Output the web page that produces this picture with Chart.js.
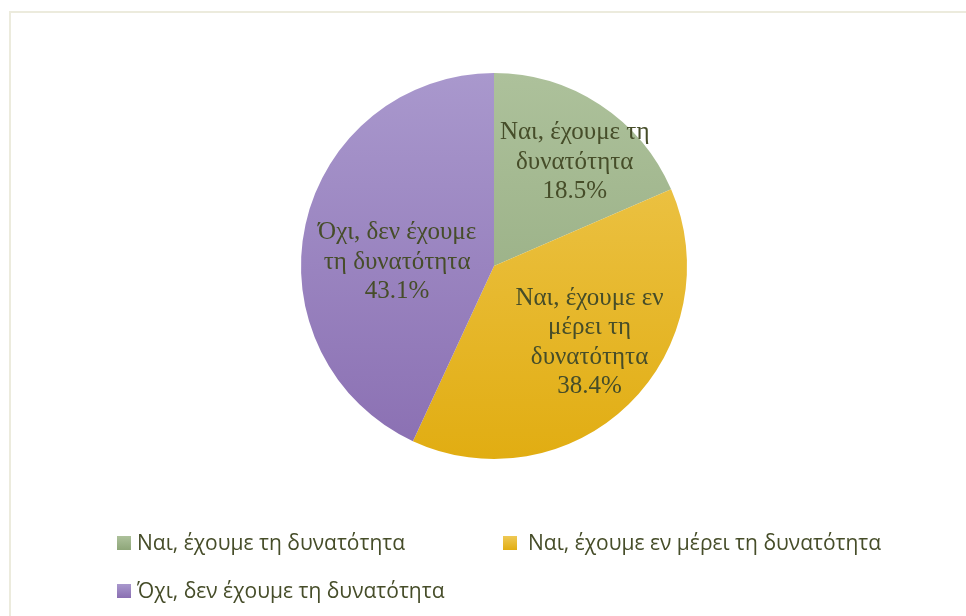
<!DOCTYPE html>
<html>
<head>
<meta charset="utf-8">
<script src="https://cdn.jsdelivr.net/npm/chart.js@4/dist/chart.umd.min.js"></script>
<style>
  html, body { margin: 0; padding: 0; background: #ffffff; overflow: hidden; }
  #wrap { position: relative; width: 966px; height: 616px; }
  #frame { position: absolute; left: 9px; top: 11px; width: 980px; height: 640px; border: 2px solid #ecebdd; box-sizing: border-box; }
  canvas { position: absolute; left: 0; top: 0; }
</style>
</head>
<body>
<div id="wrap">
  <div id="frame"></div>
  <canvas id="c" width="966" height="616"></canvas>
</div>
<script>
const categories = ["Ναι, έχουμε τη δυνατότητα", "Ναι, έχουμε εν μέρει τη δυνατότητα", "Όχι, δεν έχουμε τη δυνατότητα"];
const values = [18.5, 38.4, 43.1];
const colorsTop = ["#adc19b", "#efc955", "#a998cd"];
const colorsBottom = ["#8ea679", "#e1ad12", "#8a6fb2"];

const textColor = "#464d29";

function sliceGradient(ctx) {
  const chart = ctx.chart;
  const ca = chart.chartArea;
  const i = ctx.dataIndex;
  if (!ca) return colorsTop[i];
  const g = chart.ctx.createLinearGradient(0, ca.top, 0, ca.bottom);
  g.addColorStop(0, colorsTop[i]);
  g.addColorStop(1, colorsBottom[i]);
  return g;
}

function wrapText(ctx, text, maxW) {
  const words = text.split(" ");
  const lines = [];
  let cur = "";
  for (const w of words) {
    const t = cur ? cur + " " + w : w;
    if (cur && ctx.measureText(t).width > maxW) { lines.push(cur); cur = w; }
    else cur = t;
  }
  if (cur) lines.push(cur);
  return lines;
}

const sliceLabels = {
  id: "sliceLabels",
  afterDatasetsDraw(chart, args, opts) {
    const ctx = chart.ctx;
    const meta = chart.getDatasetMeta(0);
    ctx.save();
    ctx.font = opts.font;
    ctx.fillStyle = textColor;
    ctx.textAlign = "center";
    ctx.textBaseline = "middle";
    meta.data.forEach((arc, i) => {
      const p = arc.getProps(["x", "y", "startAngle", "endAngle", "outerRadius"], true);
      const mid = (p.startAngle + p.endAngle) / 2;
      const r = p.outerRadius * opts.radiusFraction;
      const off = opts.offsets[i];
      const cx = p.x + Math.cos(mid) * r + off[0];
      const cy = p.y + Math.sin(mid) * r + off[1];
      const lines = wrapText(ctx, chart.data.labels[i], opts.maxWidth);
      lines.push(values[i].toFixed(1) + "%");
      const lh = opts.lineHeight;
      const y0 = cy - (lines.length - 1) * lh / 2;
      lines.forEach((ln, k) => ctx.fillText(ln, cx, y0 + k * lh));
    });
    ctx.restore();
  }
};

const customLegend = {
  id: "customLegend",
  afterDraw(chart, args, opts) {
    const ctx = chart.ctx;
    ctx.save();
    ctx.font = opts.font;
    ctx.textBaseline = "middle";
    ctx.textAlign = "left";
    chart.data.labels.forEach((lab, i) => {
      const pos = opts.positions[i];
      const g = ctx.createLinearGradient(0, pos[1] - 7, 0, pos[1] + 7);
      g.addColorStop(0, colorsTop[i]);
      g.addColorStop(1, colorsBottom[i]);
      ctx.fillStyle = g;
      ctx.fillRect(pos[0], pos[1] - 7, 14, 14);
      ctx.fillStyle = textColor;
      ctx.fillText(lab, pos[2], pos[1] + 1);
    });
    ctx.restore();
  }
};

new Chart(document.getElementById("c"), {
  type: "pie",
  data: {
    labels: categories,
    datasets: [{
      data: values,
      backgroundColor: sliceGradient,
      borderWidth: 0
    }]
  },
  options: {
    responsive: false,
    animation: false,
    layout: { padding: { top: 73, bottom: 157, left: 22, right: 0 } },
    plugins: {
      legend: { display: false },
      tooltip: { enabled: false },
      sliceLabels: {
        font: "25px 'Liberation Serif'",
        maxWidth: 185,
        lineHeight: 29.5,
        radiusFraction: 0.62,
        offsets: [[15, -4], [12, -9], [20, 22]]
      },
      customLegend: {
        font: "21px 'Open Sans'",
        positions: [[117, 543, 137], [503, 543, 528], [117, 591, 137]]
      }
    }
  },
  plugins: [sliceLabels, customLegend]
});
</script>
</body>
</html>
